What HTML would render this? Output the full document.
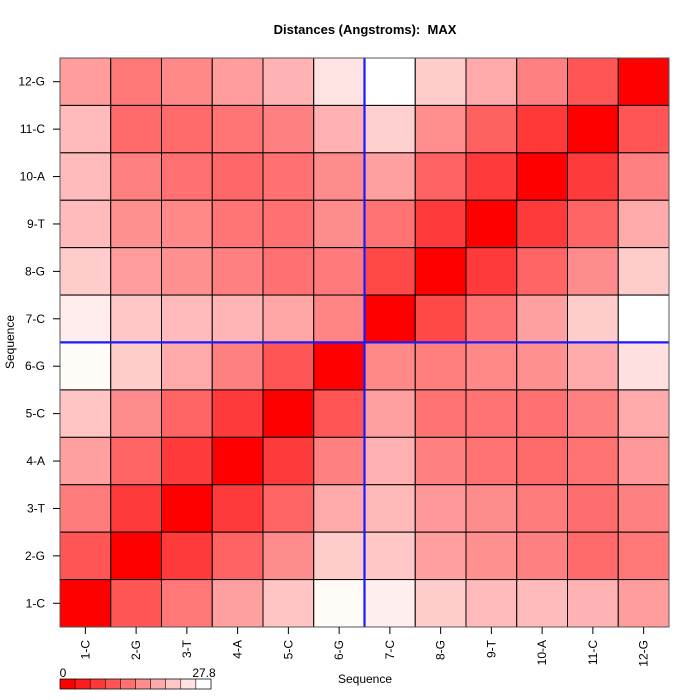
<!DOCTYPE html>
<html><head><meta charset="utf-8"><style>body{margin:0;background:#fff}svg{display:block}text{font-family:"Liberation Sans",sans-serif;font-size:12px;fill:#000}</style></head>
<body>
<svg width="700" height="700" viewBox="0 0 700 700" id="s">
<text x="365" y="34" text-anchor="middle" style="font-weight:bold;font-size:13px">Distances (Angstroms):&#160; MAX</text>
<g id="cells" stroke="#000" stroke-width="1"></g>
<line x1="364.5" y1="58" x2="364.5" y2="627" stroke="#1a1aff" stroke-width="2.2"/>
<line x1="60" y1="342.4" x2="669" y2="342.4" stroke="#1a1aff" stroke-width="2.2"/>
<rect x="60" y="58" width="609" height="569" fill="none" stroke="#555" stroke-width="1"/>
<g id="ticks" stroke="#000"></g>
<g id="labs"></g>
<text x="365" y="683" text-anchor="middle">Sequence</text>
<text transform="translate(14,342) rotate(-90)" text-anchor="middle">Sequence</text>
<g id="leg" stroke="#000" stroke-width="0.5"></g>
<text x="63" y="677" text-anchor="middle">0</text>
<text x="204" y="677" text-anchor="middle">27.8</text>
</svg>
<script>
var M=[
"FF9C9C FF7777 FF8888 FF9C9C FFB3B3 FFE2E2 FFFFFF FFCCCC FFAAAA FF8080 FF5555 FF0000",
"FFBBBB FF6B6B FF6B6B FF7575 FF8080 FFB0B0 FFD0D0 FF8E8E FF6060 FF3838 FF0000 FF5555",
"FFBBBB FF8080 FF7070 FF6868 FF7070 FF8C8C FFA0A0 FF6262 FF3A3A FF0000 FF3A3A FF8080",
"FFBBBB FF9090 FF8888 FF7575 FF7070 FF8C8C FF7373 FF3A3A FF0000 FF3A3A FF6565 FFAAAA",
"FFCCCC FF9C9C FF9090 FF8080 FF7070 FF7A7A FF4848 FF0000 FF3A3A FF6565 FF8C8C FFCCCC",
"FFECEC FFC8C8 FFBBBB FFB5B5 FFA6A6 FF8585 FF0000 FF4848 FF7373 FFA0A0 FFCCCC FFFFFF",
"FFFCF8 FFCCCC FFAAAA FF8080 FF5555 FF0000 FF8888 FF7F7F FF8888 FF9090 FFAAAA FFE0E0",
"FFC4C4 FF8C8C FF6565 FF3A3A FF0000 FF5555 FFA0A0 FF7373 FF7373 FF7070 FF8080 FFAAAA",
"FFA0A0 FF6565 FF3A3A FF0000 FF3A3A FF8080 FFB0B0 FF8080 FF7373 FF6B6B FF7373 FF9999",
"FF7C7C FF3A3A FF0000 FF3A3A FF6565 FFAAAA FFB8B8 FF9999 FF8C8C FF7C7C FF6E6E FF8080",
"FF5555 FF0000 FF3A3A FF6262 FF8C8C FFCCCC FFC8C8 FF9F9F FF9090 FF8080 FF6B6B FF7777",
"FF0000 FF5555 FF7777 FFA0A0 FFC4C4 FFFCF8 FFEEEE FFCCCC FFBBBB FFBBBB FFB3B3 FF9C9C"];
var names=["1-C","2-G","3-T","4-A","5-C","6-G","7-C","8-G","9-T","10-A","11-C","12-G"];
var cw=609/12,rh=569/12,h="";
for(var r=0;r<12;r++){var c=M[r].split(" ");for(var j=0;j<12;j++)h+='<rect x="'+(60+j*cw)+'" y="'+(58+r*rh)+'" width="'+cw+'" height="'+rh+'" fill="#'+c[j]+'"/>';}
document.getElementById("cells").innerHTML=h;
var t="",l="";
for(var i=0;i<12;i++){var x=60+(i+.5)*cw,y=627-(i+.5)*rh;
t+='<line x1="'+x+'" y1="627" x2="'+x+'" y2="634"/><line x1="53" y1="'+y+'" x2="60" y2="'+y+'"/>';
l+='<text x="45" y="'+(y+4)+'" text-anchor="end">'+names[i]+'</text>';
l+='<text transform="translate('+(x+4)+',640) rotate(-90)" text-anchor="end">'+names[i]+'</text>';}
document.getElementById("ticks").innerHTML=t;document.getElementById("labs").innerHTML=l;
var lc=["FF0000","FF1C1C","FF3838","FF5555","FF7171","FF8D8D","FFAAAA","FFC6C6","FFE2E2","FFFFFF"],g="";
for(var k=0;k<10;k++)g+='<rect x="'+(60+k*15.1)+'" y="679" width="15.1" height="10" fill="#'+lc[k]+'"/>';
document.getElementById("leg").innerHTML=g+'<rect x="60" y="679" width="151" height="10" fill="none" stroke="#000"/>';
</script>
</body></html>
